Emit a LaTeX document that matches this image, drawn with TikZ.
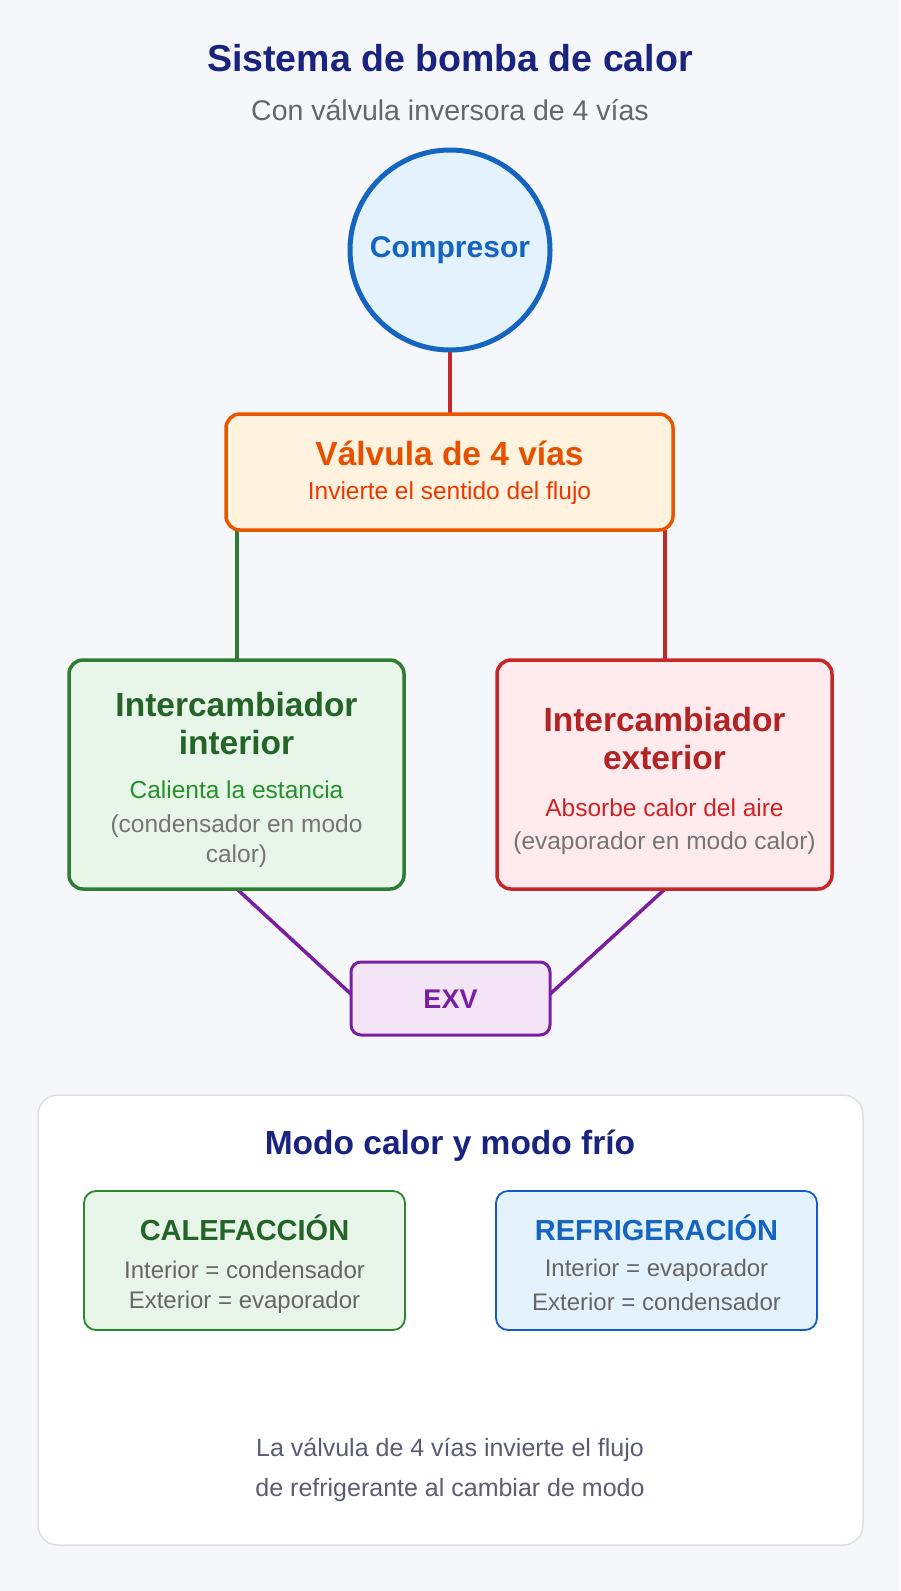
\documentclass[tikz,border=0pt]{standalone}
\usepackage{fontspec}
\setmainfont{Liberation Sans}
\definecolor{bg}{HTML}{F5F7FB}
\definecolor{navy}{HTML}{1A237E}
\definecolor{cblue}{HTML}{1565C0}
\definecolor{cbluef}{HTML}{E3F2FD}
\definecolor{cred}{HTML}{C62828}
\definecolor{credf}{HTML}{FFEBEE}
\definecolor{corange}{HTML}{E65100}
\definecolor{corangef}{HTML}{FFF3E0}
\definecolor{cgreen}{HTML}{2E7D32}
\definecolor{cgreenf}{HTML}{E8F5E9}
\definecolor{cpurple}{HTML}{7B1FA2}
\definecolor{cpurplef}{HTML}{F3E5F5}
\definecolor{gtext}{HTML}{666666}
\begin{document}
\begin{tikzpicture}[x=1pt,y=-1pt,
  box/.style={draw,line width=3.5pt,rounded corners=14pt},
  conn/.style={line width=4.5pt},
  t/.style={font=\fontsize{#1}{#1}\selectfont,inner sep=0,anchor=center},
  tb/.style={font=\fontsize{#1}{#1}\selectfont\bfseries,inner sep=0,anchor=center}]
\fill[bg] (0,0) rectangle (900,1591);
\useasboundingbox (0,0) rectangle (900,1591);
\node[tb=37.5,text=navy] (title) at (450,58) {Sistema de bomba de calor};
\node[t=28.5,text=gtext] (sub) at (450,110) {Con válvula inversora de 4 vías};
\coordinate (cb) at (450,350); \coordinate (vt) at (450,414);
\draw[conn,cred] (cb) -- (vt);
\coordinate (vl) at (237,530); \coordinate (il) at (237,660);
\draw[conn,cgreen] (vl) -- (il);
\coordinate (vr) at (665,530); \coordinate (ir) at (665,660);
\draw[conn,cred] (vr) -- (ir);
\coordinate (ib) at (237,889); \coordinate (el) at (352,995);
\coordinate (eb) at (665,889); \coordinate (er) at (549,995);
\draw[conn,cpurple,line width=3.5pt] (ib) -- (el);
\draw[conn,cpurple,line width=3.5pt] (eb) -- (er);
\node[circle,draw=cblue,fill=cbluef,line width=5pt,minimum size=200pt,inner sep=0,
  font=\fontsize{30}{30}\selectfont\bfseries,text=cblue] (comp) at (450,250) {Compresor};
\draw[box,draw=corange!90!orange,fill=corangef] (226,414) rectangle (673,530);
\node[tb=33.5,text=corange] (v1) at (449.5,453) {Válvula de 4 vías};
\node[t=24.5,text=corange!70!red] (v2) at (449.5,493) {Invierte el sentido del flujo};
\draw[box,draw=cgreen,fill=cgreenf] (69,660) rectangle (404,889);
\node[tb=33.5,text=cgreen!80!black] (i1) at (236.5,705) {Intercambiador};
\node[tb=33.5,text=cgreen!80!black] (i2) at (236.5,743) {interior};
\node[t=24.5,text=cgreen!85!green] (i3) at (236.5,790) {Calienta la estancia};
\node[t=24.5,text=gtext!90!white] (i4) at (236.5,826) {(condensador en modo};
\node[t=24.5,text=gtext!90!white] (i5) at (236.5,856) {calor)};
\draw[box,draw=cred,fill=credf] (497,660) rectangle (832,889);
\node[tb=33.5,text=cred!90!black] (e1) at (664.5,720) {Intercambiador};
\node[tb=33.5,text=cred!90!black] (e2) at (664.5,758) {exterior};
\node[t=24.5,text=cred!85!red] (e3) at (664.5,808) {Absorbe calor del aire};
\node[t=24.5,text=gtext!90!white] (e4) at (664.5,843) {(evaporador en modo calor)};
\draw[box,draw=cpurple,fill=cpurplef,line width=3pt,rounded corners=10pt] (351,962) rectangle (550,1035);
\node[tb=27,text=cpurple] (exv) at (450.5,999) {EXV};
\draw[draw=black!12,fill=white,line width=1.5pt,rounded corners=20pt] (38,1095) rectangle (863,1545);
\node[tb=33.5,text=navy] (pt) at (450,1146) {Modo calor y modo frío};
\draw[draw=cgreen!90!green,fill=cgreenf,line width=1.8pt,rounded corners=12pt] (84,1191) rectangle (405,1330);
\node[tb=29,text=cgreen!80!black] (c1) at (244.5,1228) {CALEFACCIÓN};
\node[t=24,text=gtext] (c2) at (244.5,1270) {Interior = condensador};
\node[t=24,text=gtext] (c3) at (244.5,1302) {Exterior = evaporador};
\draw[draw=cblue!90!blue,fill=cbluef,line width=1.8pt,rounded corners=12pt] (496,1191) rectangle (817,1330);
\node[tb=29,text=cblue] (r1) at (656.5,1228) {REFRIGERACIÓN};
\node[t=24,text=gtext] (r2) at (656.5,1270) {Interior = evaporador};
\node[t=24,text=gtext] (r3) at (656.5,1302) {Exterior = condensador};
\node[t=25,text=gtext!90!blue] (f1) at (450,1450) {La válvula de 4 vías invierte el flujo};
\node[t=25,text=gtext!90!blue] (f2) at (450,1490) {de refrigerante al cambiar de modo};
\end{tikzpicture}
\end{document}
